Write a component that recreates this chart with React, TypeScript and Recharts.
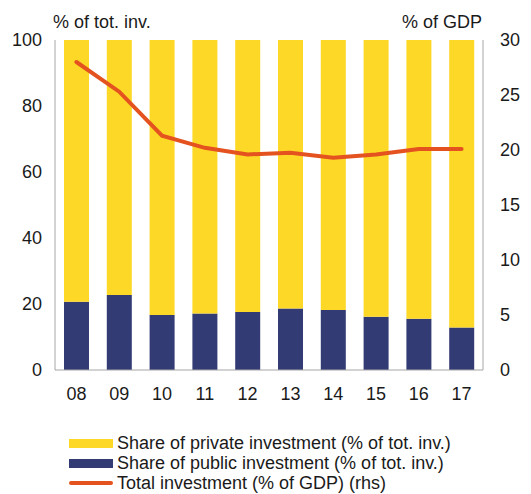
import React from 'react';
import {
  ComposedChart,
  Bar,
  Line,
  XAxis,
  YAxis
} from 'recharts';

const years = ['08', '09', '10', '11', '12', '13', '14', '15', '16', '17'];
const publicShare = [20.7, 22.7, 16.7, 17.1, 17.6, 18.6, 18.2, 16.1, 15.5, 12.9];
const privateShare = [79.3, 77.3, 83.3, 82.9, 82.4, 81.4, 81.8, 83.9, 84.5, 87.1];
const totalInvestment = [28.0, 25.3, 21.3, 20.2, 19.6, 19.75, 19.3, 19.6, 20.1, 20.1];

const leftTicks = [0, 20, 40, 60, 80, 100];
const rightTicks = [0, 5, 10, 15, 20, 25, 30];

const YELLOW = '#FDD826';
const NAVY = '#323B74';
const ORANGE = '#E4531F';
const AXIS = '#A6A6A6';
const TEXT = '#1a1a1a';
const FONT = '"Liberation Sans", Arial, sans-serif';

const chartData = years.map((year, i) => ({
  year,
  public: publicShare[i],
  private: privateShare[i],
  total: totalInvestment[i]
}));

const legendItems = [
  { label: 'Share of private investment (% of tot. inv.)', color: YELLOW, kind: 'bar' },
  { label: 'Share of public investment (% of tot. inv.)', color: NAVY, kind: 'bar' },
  { label: 'Total investment (% of GDP) (rhs)', color: ORANGE, kind: 'line' }
];

function ChartLegend() {
  return (
    <div style={{ position: 'absolute', left: 69, top: 433, fontFamily: FONT, fontSize: 18, color: TEXT }}>
      {legendItems.map(item => (
        <div key={item.label} style={{ display: 'flex', alignItems: 'center', height: 20 }}>
          <div style={{ width: 44, display: 'flex', alignItems: 'center', marginRight: 4 }}>
            <div
              style={{
                width: 44,
                height: item.kind === 'bar' ? 9 : 4,
                background: item.color,
                borderRadius: item.kind === 'line' ? 2 : 0
              }}
            />
          </div>
          <span style={{ whiteSpace: 'nowrap' }}>{item.label}</span>
        </div>
      ))}
    </div>
  );
}

export default function App() {
  const tickStyle = { fontFamily: FONT, fontSize: 18, fill: TEXT };
  return (
    <div style={{ position: 'absolute', left: 0, top: 0, width: 531, height: 494, background: '#fff' }}>
      <div style={{ position: 'absolute', left: 53, top: 12, fontFamily: FONT, fontSize: 18, color: TEXT }}>
        % of tot. inv.
      </div>
      <div style={{ position: 'absolute', right: 49, top: 12, fontFamily: FONT, fontSize: 18, color: TEXT }}>
        % of GDP
      </div>
      <ComposedChart
        width={531}
        height={494}
        data={chartData}
        margin={{ top: 40, right: 0, bottom: 94, left: 0 }}
        barCategoryGap={0}
      >
        <XAxis
          dataKey="year"
          height={30}
          tickLine={false}
          tickSize={0}
          tickMargin={17}
          stroke={AXIS}
          tick={tickStyle}
          interval={0}
        />
        <YAxis
          yAxisId="left"
          width={55}
          domain={[0, 100]}
          ticks={leftTicks}
          tickLine={false}
          tickSize={0}
          tickMargin={13}
          stroke={AXIS}
          tick={tickStyle}
        />
        <YAxis
          yAxisId="right"
          orientation="right"
          width={48}
          domain={[0, 30]}
          ticks={rightTicks}
          tickLine={false}
          tickSize={0}
          tickMargin={17}
          stroke={AXIS}
          tick={{ ...tickStyle, textAnchor: 'start' }}
        />
        <Bar yAxisId="left" dataKey="public" stackId="a" fill={NAVY} barSize={25} isAnimationActive={false} />
        <Bar yAxisId="left" dataKey="private" stackId="a" fill={YELLOW} barSize={25} isAnimationActive={false} />
        <Line
          yAxisId="right"
          dataKey="total"
          type="linear"
          stroke={ORANGE}
          strokeWidth={4}
          dot={false}
          strokeLinecap="round"
          isAnimationActive={false}
        />
      </ComposedChart>
      <ChartLegend />
    </div>
  );
}
